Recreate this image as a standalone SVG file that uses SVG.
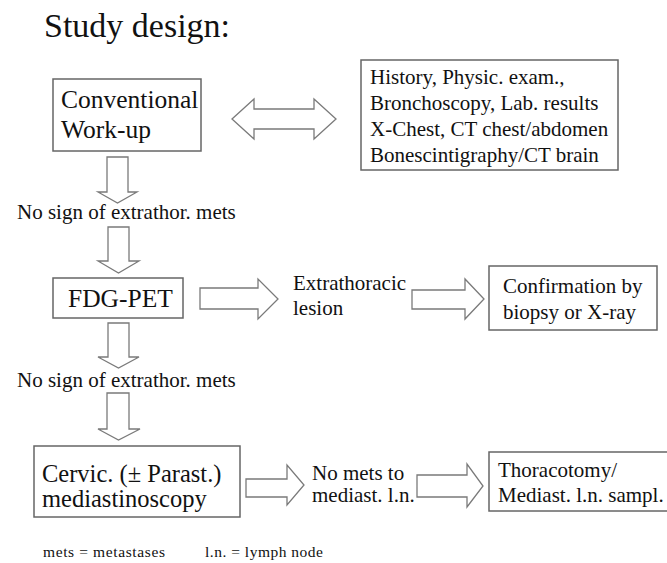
<svg xmlns="http://www.w3.org/2000/svg" width="667" height="563" viewBox="0 0 667 563">
<style>
.box{fill:#fff;stroke:#666;stroke-width:1.5}
.arr{fill:#fff;stroke:#7a7a7a;stroke-width:1.3;stroke-linejoin:miter}
.t21{font-size:21px}
.t25{font-size:25.5px}
</style>
<rect width="667" height="563" fill="#fff"/>
<g font-family="'Liberation Serif', 'Times New Roman', serif" fill="#111">
<text x="44" y="37" font-size="34">Study design:</text>
<g id="conventional">
<rect class="box" x="53" y="79" width="148" height="72"/>
<text class="t25" x="61" y="108">Conventional</text>
<text class="t25" x="61" y="138">Work-up</text>
</g>
<g id="workup-items">
<rect class="box" x="361" y="60" width="257" height="110"/>
<text class="t21" x="370" y="84">History, Physic. exam.,</text>
<text class="t21" x="370" y="110">Bronchoscopy, Lab. results</text>
<text class="t21" x="370" y="136">X-Chest, CT chest/abdomen</text>
<text class="t21" x="370" y="162">Bonescintigraphy/CT brain</text>
</g>
<g id="label1"><text class="t21" x="17" y="219">No sign of extrathor. mets</text></g>
<g id="fdgpet">
<rect class="box" x="53" y="278" width="130" height="40"/>
<text class="t25" x="68" y="307">FDG-PET</text>
</g>
<g id="extrathoracic">
<text class="t21" x="293" y="290">Extrathoracic</text>
<text class="t21" x="293" y="315">lesion</text>
</g>
<g id="confirmation">
<rect class="box" x="489" y="266" width="168" height="64"/>
<text class="t21" x="503" y="293">Confirmation by</text>
<text class="t21" x="503" y="319">biopsy or X-ray</text>
</g>
<g id="label2"><text class="t21" x="17" y="387">No sign of extrathor. mets</text></g>
<g id="mediastinoscopy">
<rect class="box" x="34" y="446" width="206" height="71"/>
<text x="42" y="482" font-size="24.5">Cervic. (± Parast.)</text>
<text x="42" y="507" font-size="24.5">mediastinoscopy</text>
</g>
<g id="nomets">
<text class="t21" x="312" y="480">No mets to</text>
<text class="t21" x="312" y="502">mediast. l.n.</text>
</g>
<g id="thoracotomy">
<rect class="box" x="489" y="452" width="182" height="59"/>
<text class="t21" x="498" y="477">Thoracotomy/</text>
<text class="t21" x="498" y="502">Mediast. l.n. sampl.</text>
</g>
<g id="footnote">
<text x="43" y="557" font-size="15.5" textLength="122" lengthAdjust="spacing">mets = metastases</text>
<text x="205" y="557" font-size="15.5" textLength="118" lengthAdjust="spacing">l.n. = lymph node</text>
</g>
</g>
<g id="connectors">
<path class="arr" d="M232,119 L254,99 V109 H314 V99 L336,119 L314,139 V129 H254 V139 Z"/>
<path class="arr" d="M107,157 H128 V192 H137 L117.5,203 L98,192 H107 Z"/>
<path class="arr" d="M108,227 H129 V261 H139 L118.5,273 L98,261 H108 Z"/>
<path class="arr" d="M108,323 H129 V357 H139 L118.5,368 L98,357 H108 Z"/>
<path class="arr" d="M107,393 H129 V429 H140 L118.5,440 L98,429 H107 Z"/>
<path class="arr" d="M200,288 H258 V279 L278,299 L258,319 V309 H200 Z"/>
<path class="arr" d="M412,290 H465 V279 L484,299 L465,319 V309 H412 Z"/>
<path class="arr" d="M246,479 H287 V465 L304,485 L287,505 V497 H246 Z"/>
<path class="arr" d="M417,475 H467 V464 L483,486 L467,507 V497 H417 Z"/>
</g>
</svg>
